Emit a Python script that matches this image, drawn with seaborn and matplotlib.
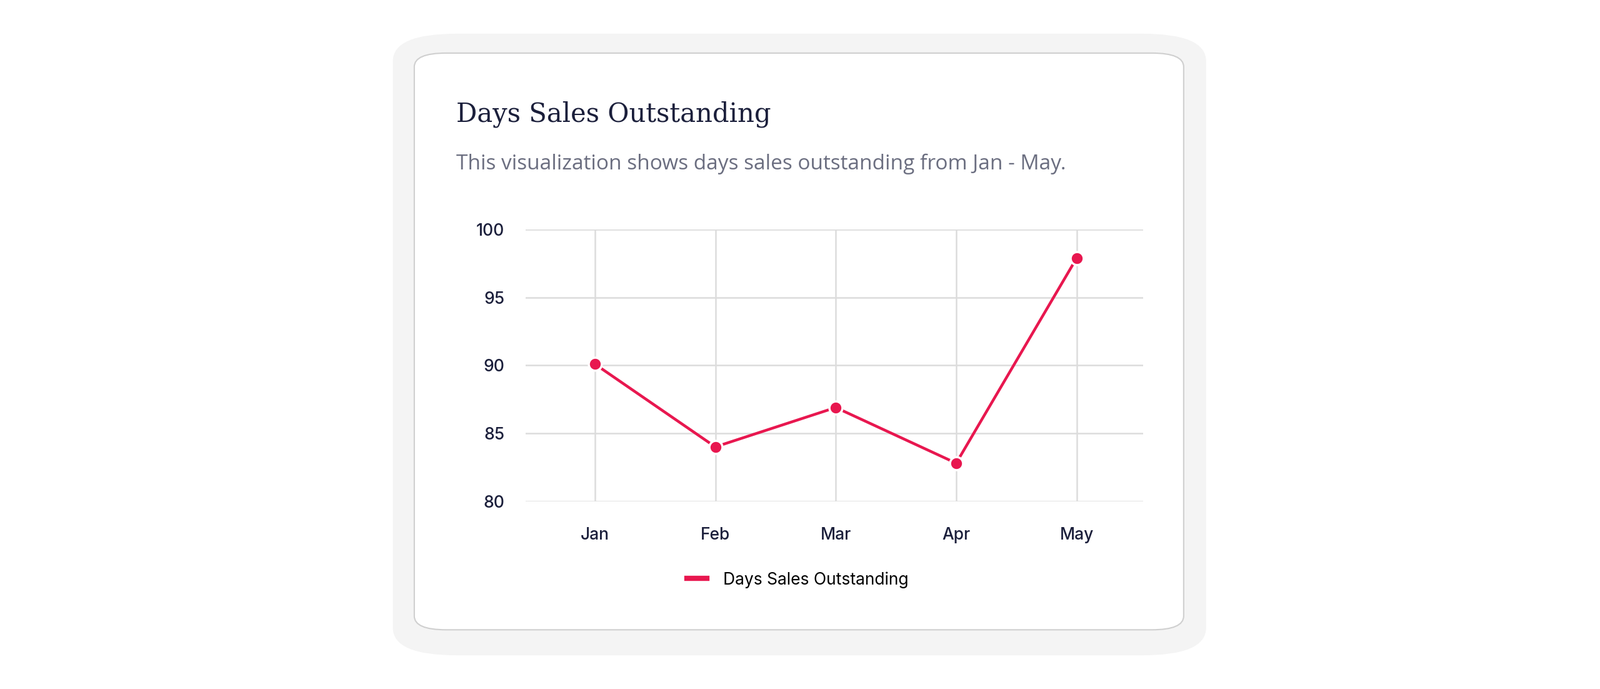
import matplotlib
matplotlib.use("Agg")
import matplotlib.pyplot as plt
from matplotlib.patches import FancyBboxPatch
from matplotlib.lines import Line2D
import seaborn as sns
import pandas as pd

# data
months = ["Jan", "Feb", "Mar", "Apr", "May"]
dso_values = [90.1, 84.0, 86.9, 82.8, 97.9]
y_ticks = [80, 85, 90, 95, 100]
series_name = "Days Sales Outstanding"

df = pd.DataFrame({"month": months, "dso": dso_values})
df["pos"] = range(len(months))

red = "#E8174F"
W, H = 1568, 675  # reference layout units

fig = plt.figure(figsize=(25.6, 11.02), dpi=100)
fig.patch.set_facecolor("white")

# card shadow + card
fig.patches.append(FancyBboxPatch((385 / W, 1 - 642 / H), 797 / W, 609 / H,
                                  boxstyle="round,pad=0,rounding_size=0.04",
                                  transform=fig.transFigure, facecolor="#f4f4f4",
                                  edgecolor="none", zorder=0))
fig.patches.append(FancyBboxPatch((406 / W, 1 - 617 / H), 754 / W, 565 / H,
                                  boxstyle="round,pad=0,rounding_size=0.02",
                                  transform=fig.transFigure, facecolor="white",
                                  edgecolor="#cfcfcf", linewidth=1.5, zorder=1))

fig.text(447 / W, 1 - 112 / H, series_name, fontsize=30, family="DejaVu Serif",
         color="#1b1f3b", va="center", ha="left")
fig.text(447 / W, 1 - 161 / H, "This visualization shows days sales outstanding from Jan - May.",
         fontsize=24, family="Open Sans", color="#6b6e80", va="center", ha="left")

ax = fig.add_axes([515 / W, 1 - 491 / H, 605 / W, 266 / H])
ax.set_zorder(2)
ax.patch.set_alpha(0)
sns.lineplot(data=df, x="pos", y="dso", ax=ax, color=red, linewidth=3.2,
             marker="o", markersize=15, markeredgecolor="white", markeredgewidth=2.5)

ax.set_xlim(-0.576, 4.55)
ax.set_ylim(80, 100)
ax.set_xticks(df["pos"])
ax.set_xticklabels(months)
ax.set_yticks(y_ticks)
ax.set_xlabel("")
ax.set_ylabel("")
ax.grid(True, color="#dcdcdc", linewidth=1.8)
ax.set_axisbelow(True)
for s in ax.spines.values():
    s.set_visible(False)
ax.tick_params(length=0, labelsize=19, colors="#1b1f3b")
ax.tick_params(axis="x", pad=30)
ax.tick_params(axis="y", pad=24)
for lab in ax.get_xticklabels() + ax.get_yticklabels():
    lab.set_family("Inter")
    lab.set_fontweight("medium")

handle = Line2D([0], [0], color=red, linewidth=6)
fig.legend([handle], [series_name], loc="center", bbox_to_anchor=(782 / W, 1 - 568 / H),
           frameon=False, handlelength=1.2, handletextpad=1.0,
           prop={"family": "Inter", "size": 19})

fig.savefig("out.png", dpi=100, facecolor="white")
